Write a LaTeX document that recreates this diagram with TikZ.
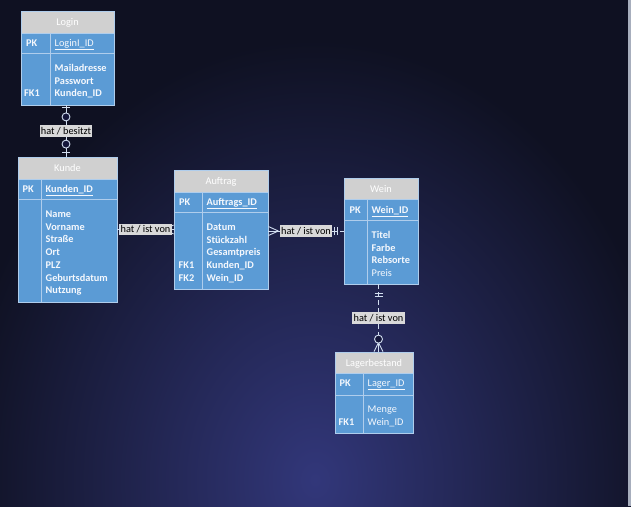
\documentclass[tikz,border=0pt]{standalone}
\usepackage{fontspec}
\setmainfont{Carlito}
\usetikzlibrary{fit,calc}
\definecolor{bgdark}{HTML}{0F1122}
\definecolor{bglight}{HTML}{32377A}
\definecolor{circfill}{HTML}{14163A}
\definecolor{tblfill}{HTML}{5B9BD5}
\definecolor{tblline}{HTML}{AFCDEC}
\definecolor{headfill}{HTML}{D0D0D0}
\definecolor{conn}{HTML}{D2DEF0}
\definecolor{lblfill}{HTML}{D9D9D9}
\definecolor{edgegray}{HTML}{A7AEBD}
\definecolor{txtwhite}{HTML}{F5F8FD}
\tikzset{
  tbl/.style={draw=tblline, line width=0.8pt, fill=tblfill, inner sep=0pt},
  tblhead/.style={fill=headfill, inner sep=0pt},
  titletext/.style={text=white, anchor=base, inner sep=0pt, font=\fontsize{10.3}{12}\selectfont},
  fld/.style={text=txtwhite, anchor=base west, inner sep=0pt, font=\fontsize{10.3}{12}\selectfont\bfseries},
  fldr/.style={text=txtwhite, anchor=base west, inner sep=0pt, font=\fontsize{10.3}{12}\selectfont},
  conline/.style={draw=conn, line width=0.9pt},
  dashline/.style={conline, dash pattern=on 5pt off 3pt},
  ring/.style={conline, fill=circfill},
  rellabel/.style={fill=lblfill, text=black, inner xsep=1.2pt, inner ysep=1.8pt, font=\fontsize{10.3}{12}\selectfont},
}
% name, left, top, right, bottom, head bottom, pk bottom, divider x, title
\newcommand\ERtab[9]{%
  \node[tbl, fit={(#2,#3) (#4,#5)}] (#1) {};
  \node[tblhead, fit={(#2,#3) (#4,#6)}] (#1-head) {};
  \node[titletext] (#1-title) at ([yshift=-3.6pt]#1-head.center) {#9};
  \draw[tblline, line width=0.8pt] (#2,#6) -- (#4,#6) (#2,#7) -- (#4,#7) (#8,#6) -- (#8,#5);
  \draw[tblline, line width=0.8pt] (#2,#3) rectangle (#4,#5);
}
% name, x, first baseline, style, list
\newcommand\ERrows[5]{%
  \foreach \t [count=\i from 0] in {#5} {\node[#4] (#1-f\i) at (#2,{#3+12.7*\i}) {\t};}%
}
\begin{document}
\begin{tikzpicture}[x=1pt,y=-1pt]
\useasboundingbox (0,0) rectangle (631,506);
\fill[bgdark] (0,0) rectangle (631,506);
\begin{scope}
  \clip (0,0) rectangle (631,506);
  \shade[inner color=bglight, outer color=bgdark] (315,480) ellipse (360 and 440);
\end{scope}
\fill[edgegray] (628,0) rectangle (631,506);

% ---------- tables ----------
\ERtab{login}{21}{11}{114}{105}{33}{53}{50}{Login}
\node[fld] (login-pk) at (26,46.5) {PK};
\node[fldr] (login-pkn) at (54.5,46.5) {\underline{LoginI\_ID}};
\ERrows{login}{54.5}{71.5}{fld}{Mailadresse,Passwort,Kunden\_ID}
\node[fld] (login-fk1) at (24,96.9) {FK1};

\ERtab{kunde}{18}{157}{117}{302}{179}{199}{41}{Kunde}
\node[fld] (kunde-pk) at (22.5,192.5) {PK};
\node[fld] (kunde-pkn) at (45.5,192.5) {\underline{Kunden\_ID}};
\ERrows{kunde}{45.5}{217.5}{fld}{Name,Vorname,Straße,Ort,PLZ,Geburtsdatum,Nutzung}

\ERtab{auftrag}{174}{170}{268}{289}{192}{212}{202}{Auftrag}
\node[fld] (auftrag-pk) at (179,205.5) {PK};
\node[fld] (auftrag-pkn) at (206.5,205.5) {\underline{Auftrags\_ID}};
\ERrows{auftrag}{206.5}{230.5}{fld}{Datum,Stückzahl,Gesamtpreis,Kunden\_ID,Wein\_ID}
\node[fld] (auftrag-fk1) at (178.5,268.6) {FK1};
\node[fld] (auftrag-fk2) at (178.5,281.3) {FK2};

\ERtab{wein}{344}{178}{418}{284}{199}{220}{367}{Wein}
\node[fld] (wein-pk) at (349.5,213.5) {PK};
\node[fld] (wein-pkn) at (371.5,213.5) {\underline{Wein\_ID}};
\ERrows{wein}{371.5}{238.5}{fld}{Titel,Farbe,Rebsorte}
\node[fldr] (wein-preis) at (371.5,276.6) {Preis};

\ERtab{lager}{335}{352}{413}{433}{373}{395}{363}{Lagerbestand}
\node[fld] (lager-pk) at (339.5,386.5) {PK};
\node[fldr] (lager-pkn) at (367.5,386.5) {\underline{Lager\_ID}};
\ERrows{lager}{367.5}{412.5}{fldr}{Menge,Wein\_ID}
\node[fld] (lager-fk1) at (338.5,425.2) {FK1};

% ---------- Login -- Kunde ----------
\coordinate (lkx) at (66,0);
\draw[conline] (lkx |- login.south) -- (lkx |- kunde.north);
\draw[conline] (lkx |- login.south) ++(-4,2.5) -- ++(8,0);
\draw[ring] (lkx |- login.south) ++(0,11.5) circle (4);
\node[rellabel] (r1) at ($(lkx |- login.south)!0.5!(lkx |- kunde.north)$) {hat / besitzt};
\draw[ring] (lkx |- kunde.north) ++(0,-12.5) circle (4);
\draw[conline] (lkx |- kunde.north) ++(-4,-4) -- ++(8,0);

% ---------- Kunde -- Auftrag ----------
\draw[conline] (kunde.east) -- (kunde.east -| auftrag.west);
\draw[conline] (kunde.east -| auftrag.west) ++(-9,0) -- ++(9,-4.5)
               (kunde.east -| auftrag.west) ++(-9,0) -- ++(9,4.5);
\node[rellabel] (r2) at ($(kunde.east)!0.5!(kunde.east -| auftrag.west)$) {hat / ist von};
\draw[conline] (kunde.east) ++(2,-4) -- ++(0,8);

% ---------- Auftrag -- Wein ----------
\draw[dashline] (auftrag.east |- wein.west) -- (wein.west);
\draw[conline] (auftrag.east |- wein.west) -- ++(10,0);
\draw[conline] (auftrag.east |- wein.west) ++(10,0) -- ++(-10,-4.5)
               (auftrag.east |- wein.west) ++(10,0) -- ++(-10,4.5);
\node[rellabel] (r3) at ($(auftrag.east |- wein.west)!0.5!(wein.west)$) {hat / ist von};
\draw[conline] (wein.west) ++(-9.5,-4) -- ++(0,8)
               (wein.west) ++(-6,-4) -- ++(0,8);

% ---------- Wein -- Lagerbestand ----------
\coordinate (wlx) at (378.5,0);
\draw[dashline] (wlx |- wein.south) -- (wlx |- lager.north);
\draw[conline] (wlx |- wein.south) ++(-4,9) -- ++(8,0)
               (wlx |- wein.south) ++(-4,12) -- ++(8,0);
\node[rellabel] (r4) at ($(wlx |- wein.south)!0.5!(wlx |- lager.north)$) {hat / ist von};
\draw[conline] (wlx |- lager.north) -- ++(0,-9);
\draw[conline] (wlx |- lager.north) ++(0,-9) -- ++(-4.5,9)
               (wlx |- lager.north) ++(0,-9) -- ++(4.5,9);
\draw[ring] (wlx |- lager.north) ++(0,-12.5) circle (4);
\end{tikzpicture}
\end{document}
